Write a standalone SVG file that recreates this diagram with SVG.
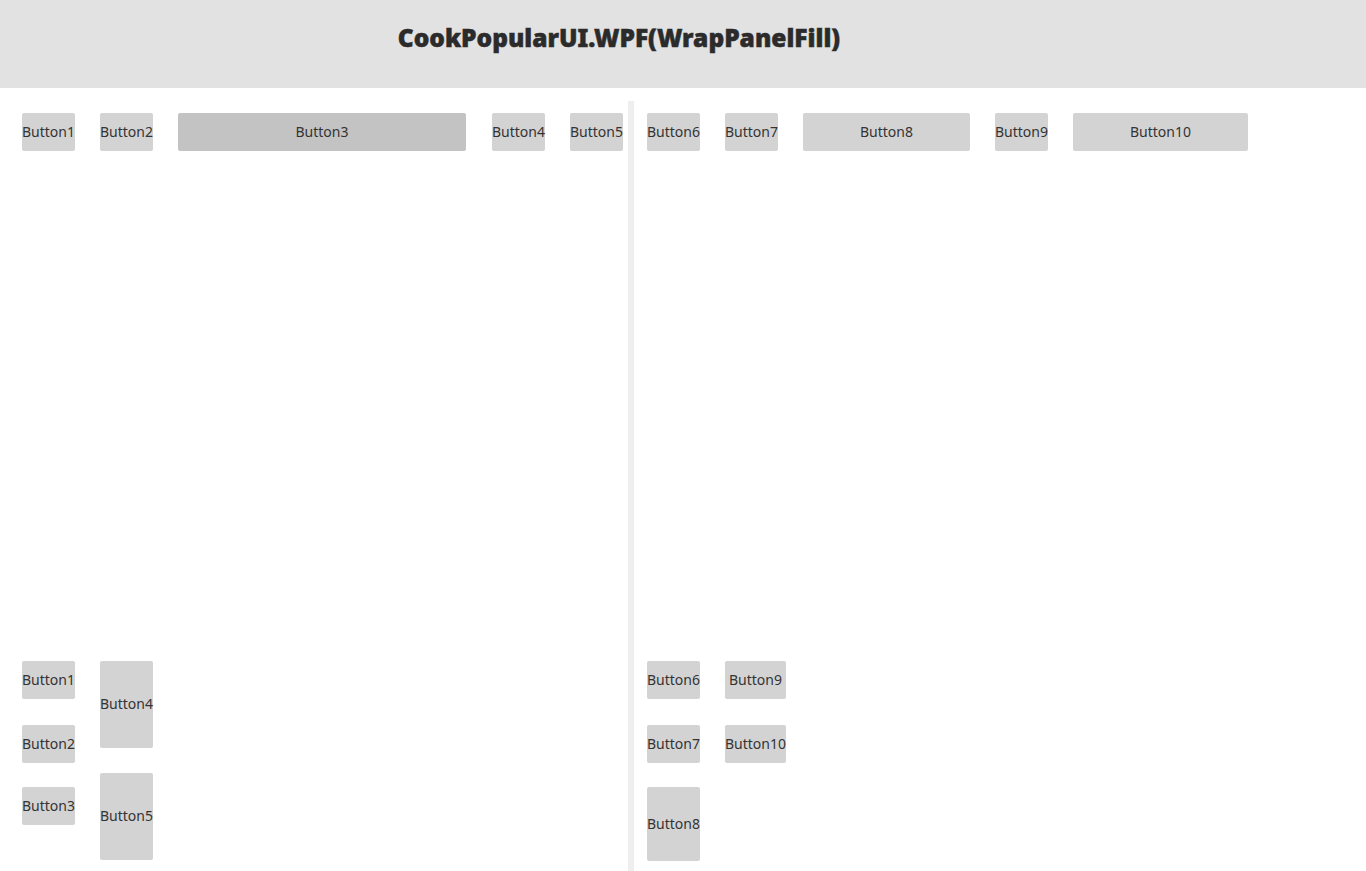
<svg xmlns="http://www.w3.org/2000/svg" width="1366" height="871" viewBox="0 0 1366 871">
<style>
.b{fill:#D3D3D3}
.b3{fill:#C3C3C3}
.t{font-family:"Noto Sans","Open Sans","Liberation Sans",sans-serif;font-size:14px;fill:#333333;text-anchor:middle;dominant-baseline:central}
.h{font-family:"Noto Sans","Open Sans","Liberation Sans",sans-serif;font-size:24.5px;font-weight:900;fill:#2B2B2B;text-anchor:middle;dominant-baseline:central;stroke:#2B2B2B;stroke-width:0.5}
</style>
<rect x="0" y="0" width="1366" height="871" fill="#FFFFFF"/>
<g id="header">
<rect x="0" y="0" width="1366" height="88" fill="#E2E2E2"/>
<text class="h" x="619" y="37">CookPopularUI.WPF(WrapPanelFill)</text>
</g>
<g id="divider"><rect x="628" y="101" width="6" height="770" fill="#EEEEEE"/></g>
<g id="top-left">
<g id="tl-b1"><rect class="b" x="22" y="113" width="53" height="38" rx="2"/><text class="t" x="48.5" y="131">Button1</text></g>
<g id="tl-b2"><rect class="b" x="100" y="113" width="53" height="38" rx="2"/><text class="t" x="126.5" y="131">Button2</text></g>
<g id="tl-b3"><rect class="b3" x="178" y="113" width="288" height="38" rx="2"/><text class="t" x="322" y="131">Button3</text></g>
<g id="tl-b4"><rect class="b" x="492" y="113" width="53" height="38" rx="2"/><text class="t" x="518.5" y="131">Button4</text></g>
<g id="tl-b5"><rect class="b" x="570" y="113" width="53" height="38" rx="2"/><text class="t" x="596.5" y="131">Button5</text></g>
</g>
<g id="top-right">
<g id="tr-b6"><rect class="b" x="647" y="113" width="53" height="38" rx="2"/><text class="t" x="673.5" y="131">Button6</text></g>
<g id="tr-b7"><rect class="b" x="725" y="113" width="53" height="38" rx="2"/><text class="t" x="751.5" y="131">Button7</text></g>
<g id="tr-b8"><rect class="b" x="803" y="113" width="167" height="38" rx="2"/><text class="t" x="886.5" y="131">Button8</text></g>
<g id="tr-b9"><rect class="b" x="995" y="113" width="53" height="38" rx="2"/><text class="t" x="1021.5" y="131">Button9</text></g>
<g id="tr-b10"><rect class="b" x="1073" y="113" width="175" height="38" rx="2"/><text class="t" x="1160.5" y="131">Button10</text></g>
</g>
<g id="bottom-left">
<g id="bl-b1"><rect class="b" x="22" y="661" width="53" height="38" rx="2"/><text class="t" x="48.5" y="679">Button1</text></g>
<g id="bl-b2"><rect class="b" x="22" y="725" width="53" height="38" rx="2"/><text class="t" x="48.5" y="743">Button2</text></g>
<g id="bl-b3"><rect class="b" x="22" y="787" width="53" height="38" rx="2"/><text class="t" x="48.5" y="805">Button3</text></g>
<g id="bl-b4"><rect class="b" x="100" y="661" width="53" height="87" rx="2"/><text class="t" x="126.5" y="703">Button4</text></g>
<g id="bl-b5"><rect class="b" x="100" y="773" width="53" height="87" rx="2"/><text class="t" x="126.5" y="815">Button5</text></g>
</g>
<g id="bottom-right">
<g id="br-b6"><rect class="b" x="647" y="661" width="53" height="38" rx="2"/><text class="t" x="673.5" y="679">Button6</text></g>
<g id="br-b7"><rect class="b" x="647" y="725" width="53" height="38" rx="2"/><text class="t" x="673.5" y="743">Button7</text></g>
<g id="br-b8"><rect class="b" x="647" y="787" width="53" height="74" rx="2"/><text class="t" x="673.5" y="823">Button8</text></g>
<g id="br-b9"><rect class="b" x="725" y="661" width="61" height="38" rx="2"/><text class="t" x="755.5" y="679">Button9</text></g>
<g id="br-b10"><rect class="b" x="725" y="725" width="61" height="38" rx="2"/><text class="t" x="755.5" y="743">Button10</text></g>
</g>
</svg>
